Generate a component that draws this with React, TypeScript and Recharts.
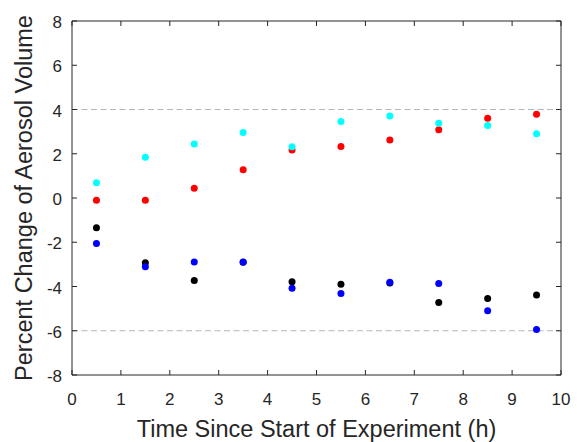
import React from "react";
import {
  ScatterChart,
  Scatter,
  XAxis,
  YAxis,
  ReferenceLine,
} from "recharts";

const hours = [0.5, 1.5, 2.5, 3.5, 4.5, 5.5, 6.5, 7.5, 8.5, 9.5];
const cyanVals = [0.69, 1.84, 2.44, 2.96, 2.32, 3.46, 3.71, 3.38, 3.28, 2.9];
const redVals = [-0.1, -0.1, 0.44, 1.28, 2.17, 2.33, 2.62, 3.08, 3.6, 3.79];
const blackVals = [-1.35, -2.93, -3.73, -2.9, -3.78, -3.9, -3.84, -4.72, -4.54, -4.38];
const blueVals = [-2.06, -3.11, -2.89, -2.89, -4.08, -4.32, -3.81, -3.87, -5.1, -5.94];

const xTicks = [0, 1, 2, 3, 4, 5, 6, 7, 8, 9, 10];
const yTicks = [-8, -6, -4, -2, 0, 2, 4, 6, 8];
const dashedLevels = [4, -6];

const INK = "#262626";
const FONT = "'Liberation Sans', Arial, Helvetica, sans-serif";
const TICK_LEN = 5;

const toPoints = (vals: number[]) => hours.map((h, i) => ({ x: h, y: vals[i] }));

const series = [
  { name: "red", color: "#ff0000", vals: redVals },
  { name: "cyan", color: "#00ffff", vals: cyanVals },
  { name: "black", color: "#000000", vals: blackVals },
  { name: "blue", color: "#0000ff", vals: blueVals },
];

const BottomTick = ({ x, y, payload }: any) => (
  <g>
    <line x1={x} y1={y} x2={x} y2={y - TICK_LEN} stroke={INK} strokeWidth={1} />
    <text x={x} y={y + 24} textAnchor="middle" dominantBaseline="central" fill={INK} fontSize={17} fontFamily={FONT}>
      {payload.value}
    </text>
  </g>
);

const TopTick = ({ x, y }: any) => (
  <line x1={x} y1={y} x2={x} y2={y + TICK_LEN} stroke={INK} strokeWidth={1} />
);

const LeftTick = ({ x, y, payload }: any) => (
  <g>
    <line x1={x} y1={y} x2={x + TICK_LEN} y2={y} stroke={INK} strokeWidth={1} />
    <text x={x - 10} y={y + 1.5} textAnchor="end" dominantBaseline="central" fill={INK} fontSize={17} fontFamily={FONT}>
      {payload.value}
    </text>
  </g>
);

const RightTick = ({ x, y }: any) => (
  <line x1={x} y1={y} x2={x - TICK_LEN} y2={y} stroke={INK} strokeWidth={1} />
);

const YTitle = ({ viewBox }: any) => {
  const cy = viewBox.y + viewBox.height / 2;
  return (
    <text
      x={31.5}
      y={cy}
      transform={`rotate(-90, 31.5, ${cy})`}
      textAnchor="middle"
      fill={INK}
      fontSize={23.5}
      fontFamily={FONT}
    >
      Percent Change of Aerosol Volume
    </text>
  );
};

const XTitle = ({ viewBox }: any) => (
  <text
    x={viewBox.x + viewBox.width / 2}
    y={436.5}
    textAnchor="middle"
    fill={INK}
    fontSize={23.5}
    fontFamily={FONT}
  >
    Time Since Start of Experiment (h)
  </text>
);

const dot = (color: string) => (props: any) => (
  <circle cx={props.cx} cy={props.cy} r={3.5} fill={color} />
);

export default function App() {
  return (
    <div style={{ position: "absolute", left: 0, top: 0, width: 577, height: 442, background: "#fff" }}>
      <ScatterChart width={577} height={442} margin={{ top: 20, right: 15, left: 0, bottom: 0 }}>
        <XAxis
          xAxisId="bottom"
          type="number"
          dataKey="x"
          domain={[0, 10]}
          ticks={xTicks}
          interval={0}
          height={67}
          tickSize={0}
          tickMargin={0}
          tickLine={false}
          axisLine={{ stroke: INK }}
          tick={<BottomTick />}
          label={<XTitle />}
          allowDataOverflow
        />
        <XAxis
          xAxisId="top"
          orientation="top"
          type="number"
          dataKey="x"
          domain={[0, 10]}
          ticks={xTicks}
          interval={0}
          height={1}
          tickSize={0}
          tickMargin={0}
          tickLine={false}
          axisLine={{ stroke: INK }}
          tick={<TopTick />}
          allowDataOverflow
        />
        <YAxis
          yAxisId="left"
          type="number"
          dataKey="y"
          domain={[-8, 8]}
          ticks={yTicks}
          interval={0}
          width={72}
          tickSize={0}
          tickMargin={0}
          tickLine={false}
          axisLine={{ stroke: INK }}
          tick={<LeftTick />}
          label={<YTitle />}
          allowDataOverflow
        />
        <YAxis
          yAxisId="right"
          orientation="right"
          type="number"
          dataKey="y"
          domain={[-8, 8]}
          ticks={yTicks}
          interval={0}
          width={1}
          tickSize={0}
          tickMargin={0}
          tickLine={false}
          axisLine={{ stroke: INK }}
          tick={<RightTick />}
          allowDataOverflow
        />
        {dashedLevels.map((v) => (
          <ReferenceLine
            key={v}
            xAxisId="bottom"
            yAxisId="left"
            y={v}
            stroke="#b5b5b5"
            strokeWidth={1}
            strokeDasharray="6 3.5"
          />
        ))}
        {series.map((s) => (
          <Scatter
            key={s.name}
            name={s.name}
            xAxisId="bottom"
            yAxisId="left"
            data={toPoints(s.vals)}
            fill={s.color}
            shape={dot(s.color)}
            isAnimationActive={false}
          />
        ))}
      </ScatterChart>
    </div>
  );
}
